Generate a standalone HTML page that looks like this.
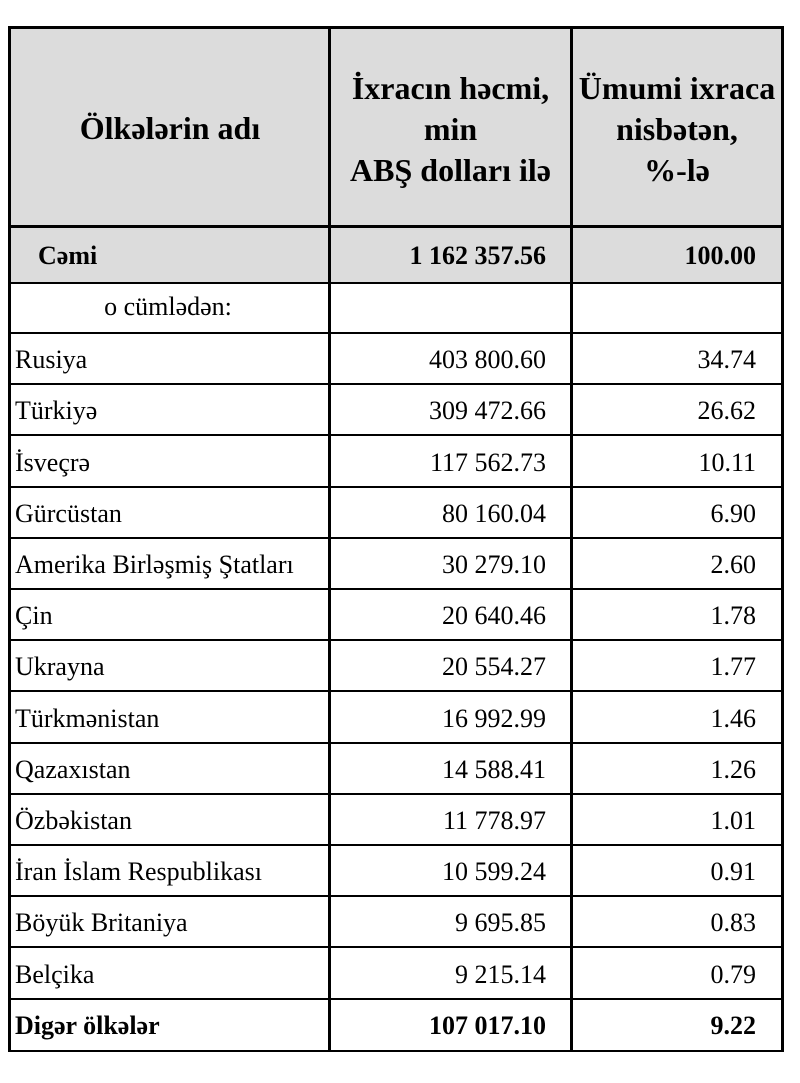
<!DOCTYPE html>
<html><head><meta charset="utf-8"><style>
body{margin:0;width:800px;height:1083px;background:#fff;position:relative;font-family:"Liberation Serif",serif;color:#000;overflow:hidden}
.g{position:absolute;background:#dcdcdc}
.h{position:absolute;background:#000}
.row{position:absolute;left:8px;width:776px;height:51px;border-bottom:2.5px solid #000;box-sizing:border-box;font-size:26px}
.row span{position:absolute;top:0;line-height:52px;white-space:nowrap}
.a{left:7px}
.v{right:238px;text-align:right}
.p{right:28px;text-align:right}
.b{font-weight:bold}
.hd{position:absolute;font-weight:bold;font-size:32px;line-height:41px;text-align:center;white-space:nowrap}
</style></head><body>
<div class="g" style="left:9px;top:27px;width:773px;height:255px"></div>
<div class="hd" style="left:10px;top:108px;width:320px">Ölkələrin adı</div>
<div class="hd" style="left:330px;top:68px;width:241px">İxracın həcmi,<br>min<br>ABŞ dolları ilə</div>
<div class="hd" style="left:572px;top:68px;width:210px">Ümumi ixraca<br>nisbətən,<br>%-lə</div>

<div class="row b" style="top:226px;height:58px"><span class="a" style="left:30px;line-height:60px">Cəmi</span><span class="v" style="line-height:60px">1 162 357.56</span><span class="p" style="line-height:60px">100.00</span></div>
<div class="row" style="top:283px"><span style="left:0;width:320px;text-align:center;line-height:48px">o cümlədən:</span></div>
<div class="row" style="top:334.2px"><span class="a">Rusiya</span><span class="v">403 800.60</span><span class="p">34.74</span></div>
<div class="row" style="top:385.4px"><span class="a">Türkiyə</span><span class="v">309 472.66</span><span class="p">26.62</span></div>
<div class="row" style="top:436.6px"><span class="a">İsveçrə</span><span class="v">117 562.73</span><span class="p">10.11</span></div>
<div class="row" style="top:487.8px"><span class="a">Gürcüstan</span><span class="v">80 160.04</span><span class="p">6.90</span></div>
<div class="row" style="top:539px"><span class="a">Amerika Birləşmiş Ştatları</span><span class="v">30 279.10</span><span class="p">2.60</span></div>
<div class="row" style="top:590.2px"><span class="a">Çin</span><span class="v">20 640.46</span><span class="p">1.78</span></div>
<div class="row" style="top:641.4px"><span class="a">Ukrayna</span><span class="v">20 554.27</span><span class="p">1.77</span></div>
<div class="row" style="top:692.6px"><span class="a">Türkmənistan</span><span class="v">16 992.99</span><span class="p">1.46</span></div>
<div class="row" style="top:743.8px"><span class="a">Qazaxıstan</span><span class="v">14 588.41</span><span class="p">1.26</span></div>
<div class="row" style="top:795px"><span class="a">Özbəkistan</span><span class="v">11 778.97</span><span class="p">1.01</span></div>
<div class="row" style="top:846.2px"><span class="a">İran İslam Respublikası</span><span class="v">10 599.24</span><span class="p">0.91</span></div>
<div class="row" style="top:897.4px"><span class="a">Böyük Britaniya</span><span class="v">9 695.85</span><span class="p">0.83</span></div>
<div class="row" style="top:948.6px"><span class="a">Belçika</span><span class="v">9 215.14</span><span class="p">0.79</span></div>
<div class="row b" style="top:999.8px;height:52px"><span class="a">Digər ölkələr</span><span class="v">107 017.10</span><span class="p">9.22</span></div>

<div class="h" style="left:8px;top:26px;width:776px;height:3px"></div>
<div class="h" style="left:8px;top:225px;width:776px;height:3px"></div>
<div class="h" style="left:8px;top:26px;width:3px;height:1026px"></div>
<div class="h" style="left:328px;top:26px;width:3px;height:1026px"></div>
<div class="h" style="left:570px;top:26px;width:3px;height:1026px"></div>
<div class="h" style="left:781px;top:26px;width:3px;height:1026px"></div>
</body></html>
